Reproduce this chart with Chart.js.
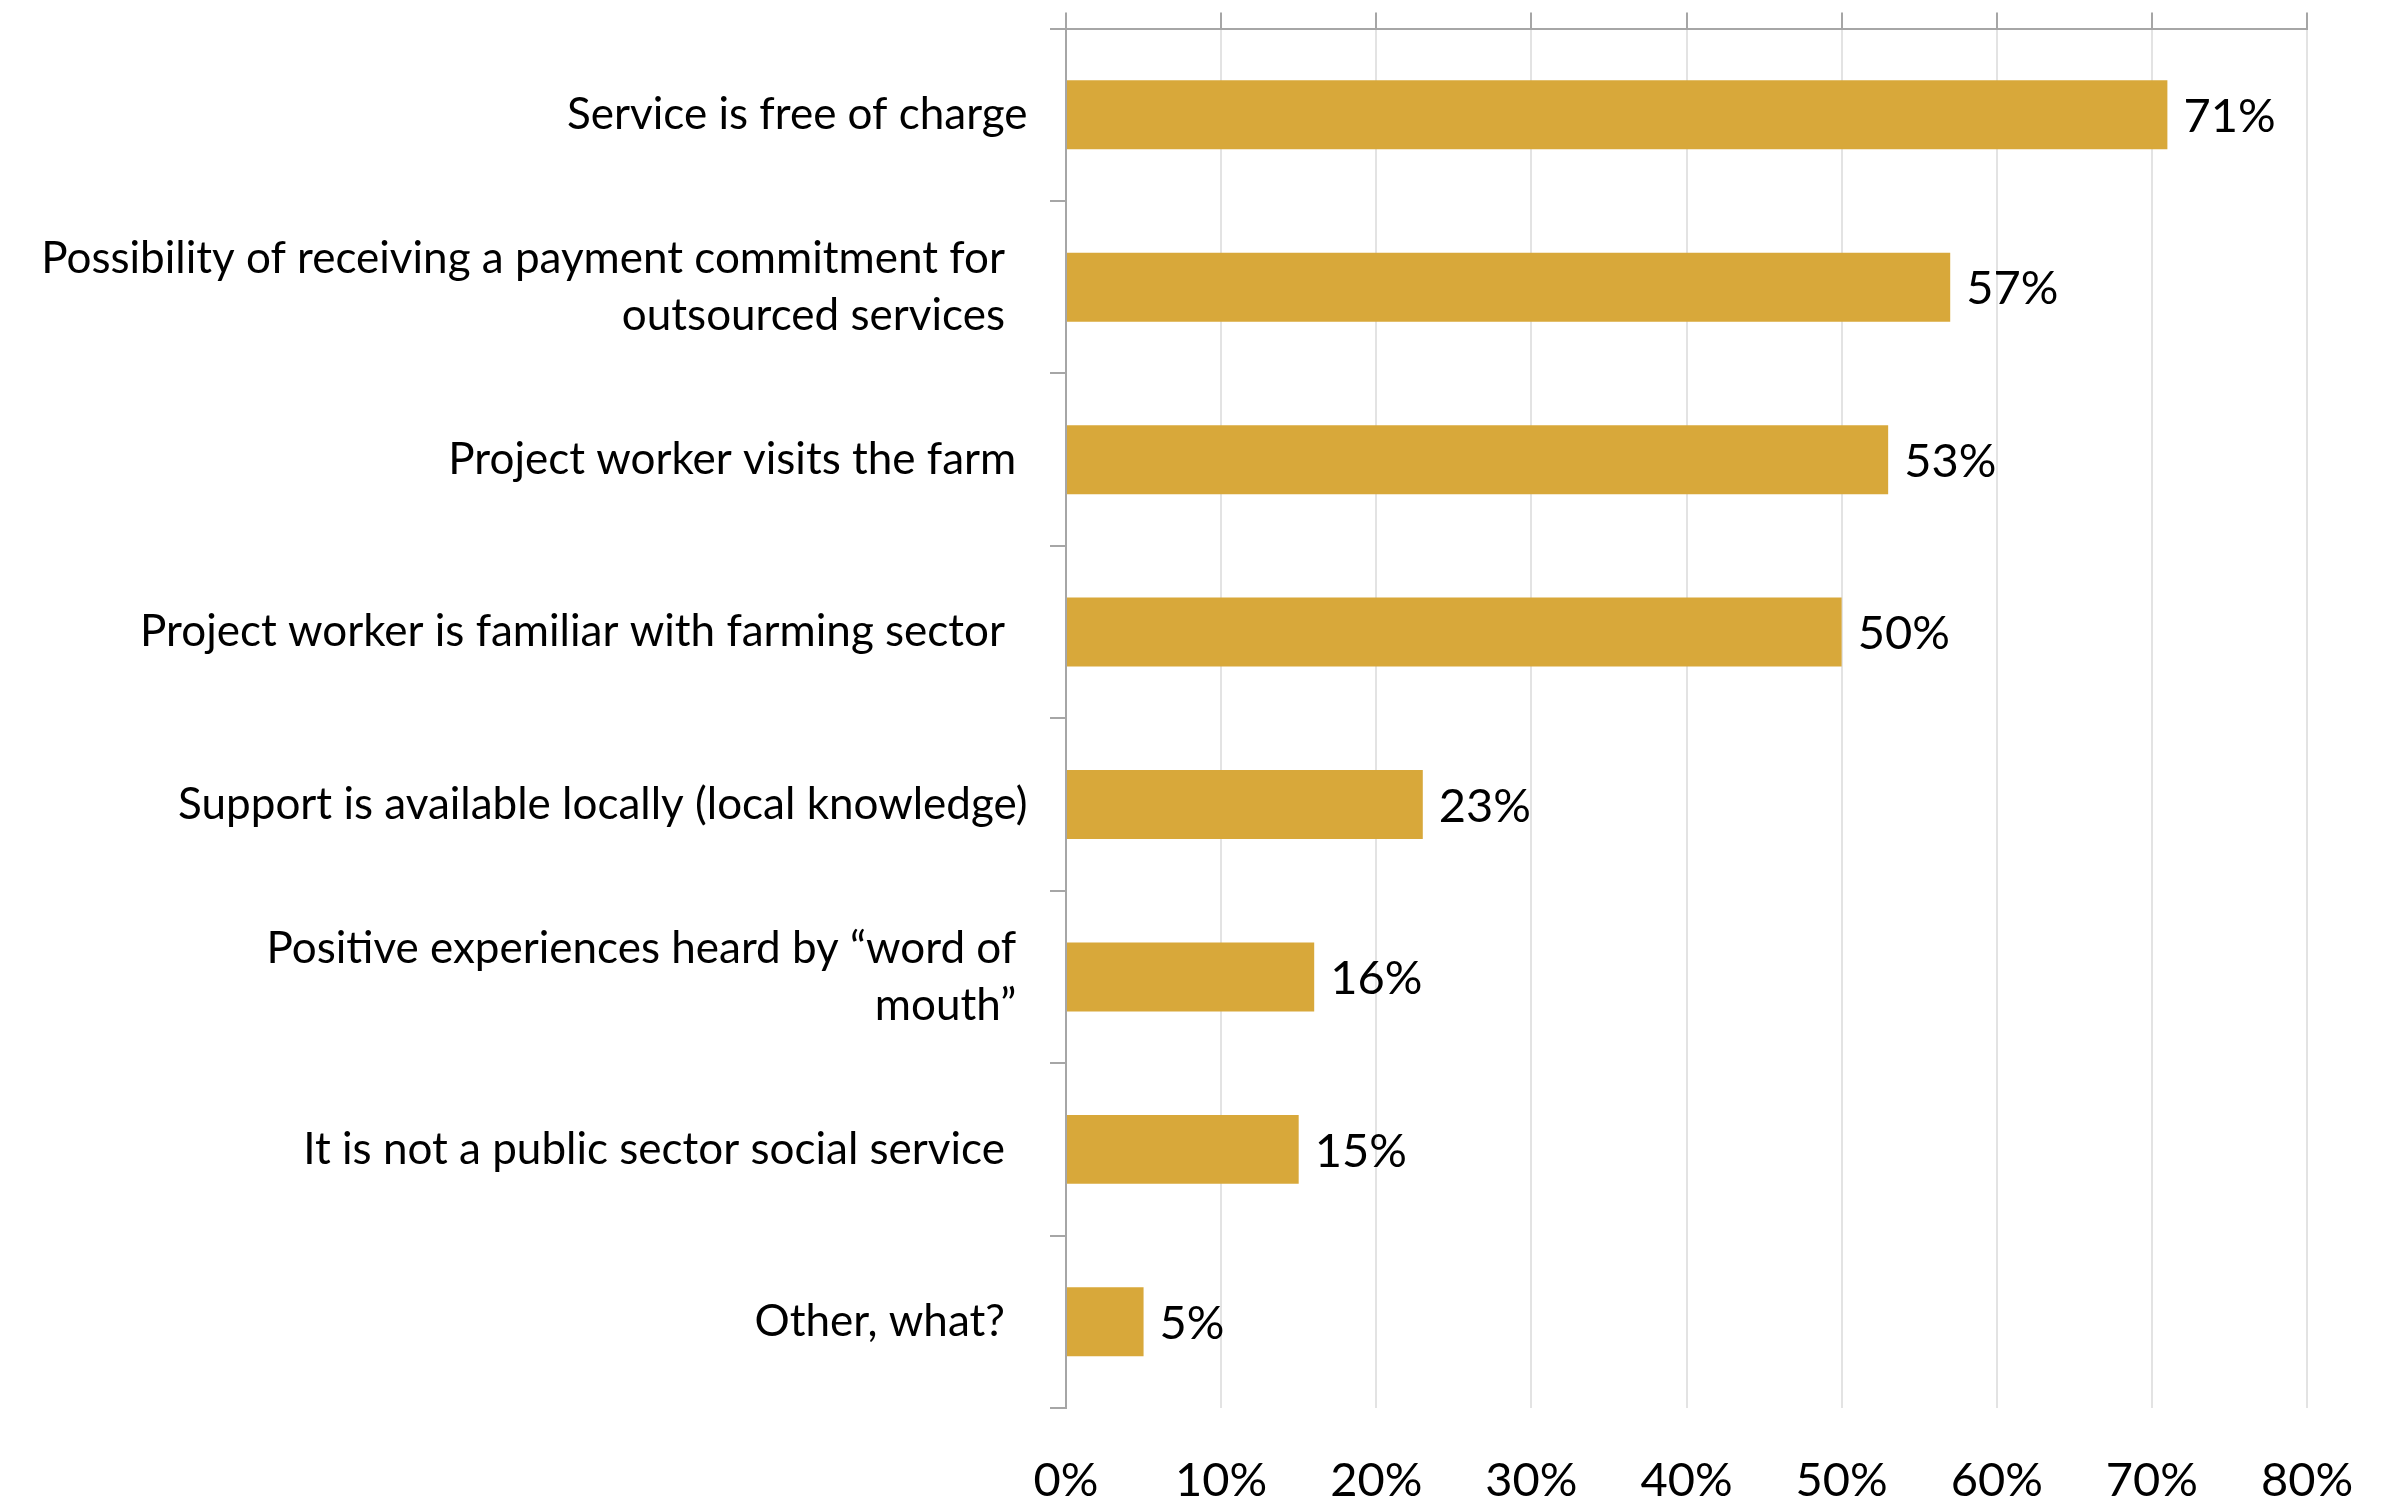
<!DOCTYPE html>
<html>
<head>
<meta charset="utf-8">
<script src="https://cdn.jsdelivr.net/npm/chart.js@4.4.1/dist/chart.umd.min.js"></script>
<style>
    html, body { margin: 0; padding: 0; background: #fff; }
    #wrap { width: 2405px; height: 1502px; }
</style>
</head>
<body>
<div id="wrap"><canvas id="reasonChart"></canvas></div>
<script>
// Reasons for choosing the service (share of respondents)
const reasons = [
    'Service is free of charge',
    ['Possibility of receiving a payment commitment for  ', 'outsourced services  '],
    'Project worker visits the farm ',
    'Project worker is familiar with farming sector  ',
    'Support is available locally (local knowledge)',
    ['Positive experiences heard by \u201cword of ', 'mouth\u201d '],
    'It is not a public sector social service  ',
    'Other, what?  '
];
const shares = [71, 57, 53, 50, 23, 16, 15, 5];
const axisTicks = [0, 10, 20, 30, 40, 50, 60, 70, 80];

const FONT = 'Lato, "Open Sans", sans-serif';
const axisGrey = '#a6a6a6';
// gap between category text and the y tick marks (tick padding would also push the plot down)
const GAP = '  ';

// value labels at the end of each bar
const valueLabels = {
    id: 'valueLabels',
    afterDatasetsDraw(chart) {
        const ctx = chart.ctx;
        const meta = chart.getDatasetMeta(0);
        ctx.save();
        ctx.font = '47px ' + FONT;
        ctx.fillStyle = '#000';
        ctx.textAlign = 'left';
        ctx.textBaseline = 'middle';
        meta.data.forEach((bar, i) => {
            ctx.fillText(shares[i] + '%', bar.x + 16, bar.y + 2);
        });
        ctx.restore();
    }
};

const ctx = document.getElementById('reasonChart');
new Chart(ctx, {
    type: 'bar',
    data: {
        labels: reasons.map(r => Array.isArray(r) ? r.map(l => l + GAP) : r + GAP),
        datasets: [{
            data: shares,
            backgroundColor: '#d8a83a',
            borderWidth: 0,
            barPercentage: 0.4,
            categoryPercentage: 1.0
        }]
    },
    options: {
        indexAxis: 'y',
        responsive: true,
        maintainAspectRatio: false,
        animation: false,
        layout: {
            autoPadding: false,
            padding: { top: 11, right: 98, bottom: 0, left: 0 }
        },
        plugins: {
            legend: { display: false },
            tooltip: { enabled: false }
        },
        scales: {
            x: {
                position: 'bottom',
                min: 0,
                max: 80,
                afterBuildTicks: scale => {
                    scale.ticks = axisTicks.map(v => ({ value: v }));
                },
                afterFit: scale => { scale.height = 94; },
                border: { display: false },
                grid: {
                    color: '#e3e3e3',
                    lineWidth: 2,
                    drawTicks: false
                },
                ticks: {
                    padding: 45,
                    color: '#000',
                    font: { family: FONT, size: 47 },
                    callback: v => v + '%'
                }
            },
            xTop: {
                position: 'top',
                min: 0,
                max: 80,
                afterBuildTicks: scale => {
                    scale.ticks = axisTicks.map(v => ({ value: v }));
                },
                afterFit: scale => { scale.height = 16; },
                border: { display: true, color: axisGrey, width: 2 },
                grid: {
                    drawOnChartArea: false,
                    drawTicks: true,
                    tickLength: 16,
                    tickColor: axisGrey,
                    lineWidth: 2
                },
                ticks: { display: false }
            },
            y: {
                afterFit: scale => { scale.width = 1066; },
                border: { display: true, color: axisGrey, width: 2 },
                grid: {
                    offset: true,
                    drawOnChartArea: false,
                    drawTicks: true,
                    tickLength: 16,
                    tickColor: axisGrey,
                    lineWidth: 2
                },
                ticks: {
                    padding: 0,
                    color: '#000',
                    font: { family: FONT, size: 44, lineHeight: 1.3 }
                }
            }
        }
    },
    plugins: [valueLabels]
});
</script>
</body>
</html>
